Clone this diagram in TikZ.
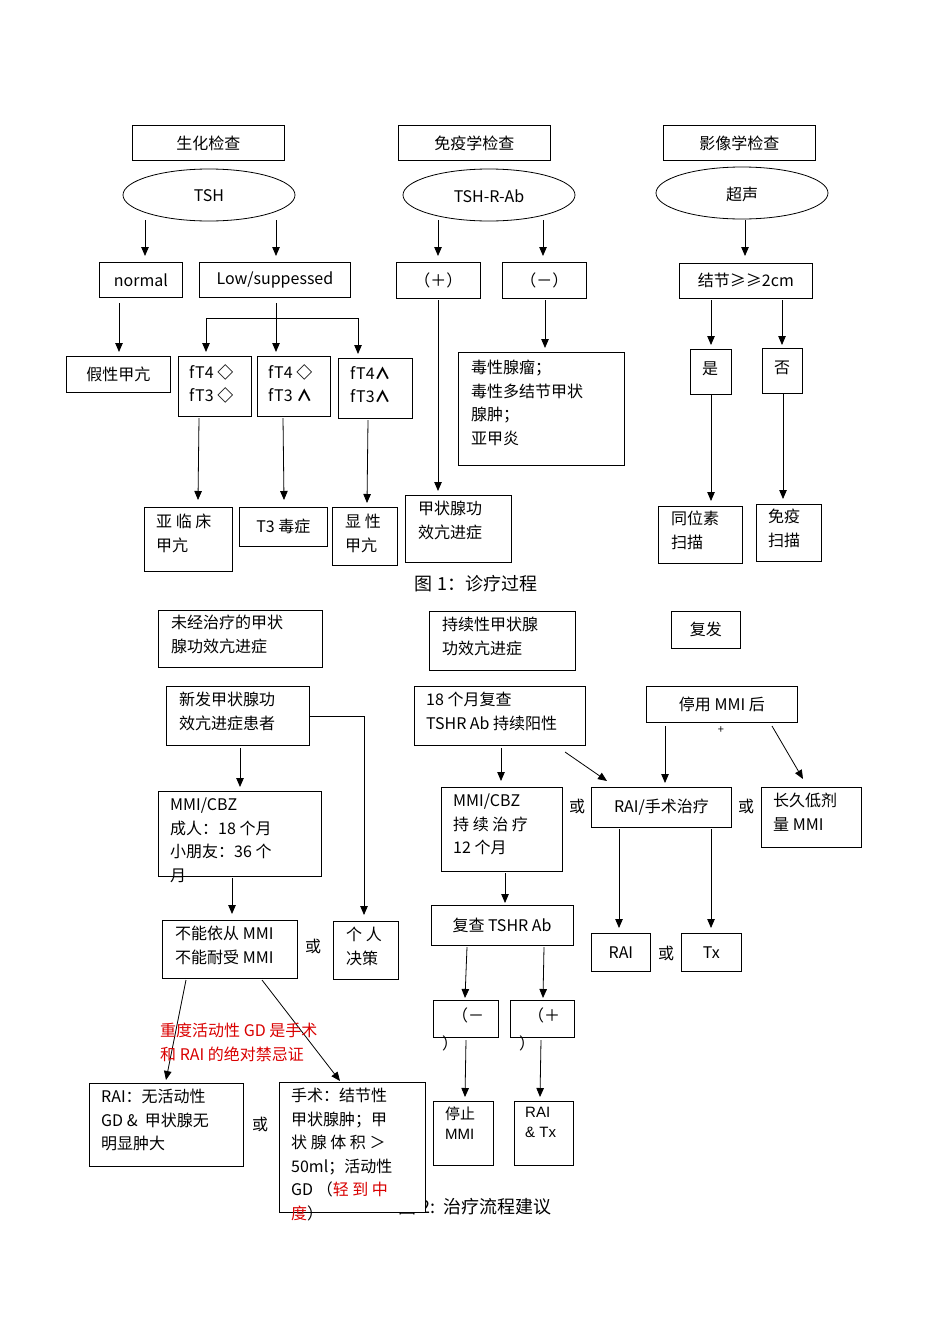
\documentclass[tikz,border=0pt]{standalone}
\usepackage{fontspec}
\setmainfont{Noto Sans CJK SC}
\newfontfamily\lat{Liberation Sans}
\usetikzlibrary{arrows.meta}
\begin{document}
\begin{tikzpicture}[x=1pt,y=-1pt,
  bx/.style={draw,thick,fill=white,inner sep=0pt},
  ar/.style={-{Triangle[length=9pt,width=7.5pt]},thick},
  tx/.style={font=\fontsize{16}{23.5}\selectfont,inner sep=0pt},
  txl/.style={tx,align=left,anchor=north west}]
\useasboundingbox (0,0) rectangle (950,1344);
\newcommand\B[5]{\node[bx,minimum width=#3-#1,minimum height=#4-#2,anchor=north west] (#5) at (#1,#2) {};}
\newcommand\dia{\textbf{◇}}
\newcommand\up{\textbf{∧}}
% top row
\B{132}{125}{284}{160}{a1}\node[tx] at (a1) {生化检查};
\B{398}{125}{550}{160}{a2}\node[tx] at (a2) {免疫学检查};
\B{663}{125}{815}{160}{a3}\node[tx] at (a3) {影像学检查};
\draw[thick] (209,195) ellipse (86 and 26); \node[tx] (e1) at (209,196) {TSH};
\draw[thick] (489,195) ellipse (86 and 26); \node[tx] (e2) at (489,196) {TSH-R-Ab};
\draw[thick] (742,193) ellipse (86 and 26); \node[tx] (e3) at (742,194) {超声};
\B{99}{262}{182}{297}{n1}\node[tx] at (n1) {normal};
\B{199}{262}{350}{297}{n2}\node[tx] at (n2) {Low/suppessed};
\B{396}{262}{480}{298}{n3}\node[tx] at (n3) {（＋）};
\B{502}{262}{586}{298}{n4}\node[tx] at (n4) {（－）};
\B{679}{263}{812}{298}{n5}\node[tx] at (n5) {结节≥≥2cm};
\draw[ar] (145,220)--(145,256); \draw[ar] (276,220)--(276,256);
\draw[ar] (438,220)--(438,256); \draw[ar] (543,220)--(543,256);
\draw[ar] (745,220)--(745,256);
\B{66}{356}{170}{392}{m1}\node[tx] at (m1) {假性甲亢};
\B{178}{356}{251}{416}{m2}\node[txl] at (189,364) {fT4 \dia\\fT3 \dia};
\B{257}{356}{330}{416}{m3}\node[txl] at (268,364) {fT4 \dia\\fT3 \up};
\B{338}{358}{412}{418}{m4}\node[txl] at (350,366) {fT4\up\\fT3\up};
\draw[ar] (119,303)--(119,352);
\draw[ar] (276,303)--(276,352);
\draw[ar] (276,318)-|(206,352); \draw[ar] (276,318)-|(358,354);
\B{144}{507}{232}{571}{p1}\node[txl] at (156,514) {亚 临 床\\甲亢};
\B{239}{507}{327}{546}{p2}\node[tx] at (p2) {T3 毒症};
\B{332}{507}{397}{565}{p3}\node[txl] at (345,514) {显 性\\甲亢};
\B{405}{495}{511}{562}{p4}\node[txl] at (418,501) {甲状腺功\\效亢进症};
\draw[ar] (199,418)--(198,500); \draw[ar] (283,418)--(284,500);
\draw[ar] (368,420)--(367,503); \draw[ar] (438,300)--(438,491);
\draw[ar] (545,300)--(545,348);
\B{458}{352}{624}{465}{q1}\node[txl] at (471,360) {毒性腺瘤；\\毒性多结节甲状\\腺肿；\\亚甲炎};
\draw[ar] (711,300)--(711,345); \draw[ar] (782,300)--(782,345);
\B{690}{349}{731}{394}{r1}\node[tx] at (710,369) {是};
\B{762}{348}{802}{393}{r2}\node[tx] at (782,368) {否};
\draw[ar] (711,394)--(711,501); \draw[ar] (783,394)--(783,499);
\B{658}{506}{742}{563}{s1}\node[txl] at (671,511) {同位素\\扫描};
\B{756}{504}{821}{561}{s2}\node[txl] at (768,509) {免疫\\扫描};
\node[tx,font=\fontsize{18}{20}\selectfont] (c1) at (476,584) {图 1：诊疗过程};
% bottom
\node[tx,font=\fontsize{18}{20}\selectfont] (c2) at (475,1207) {图 2:\ \ 治疗流程建议};
\B{158}{610}{322}{667}{t1}\node[txl] at (171,615) {未经治疗的甲状\\腺功效亢进症};
\B{429}{611}{575}{670}{t2}\node[txl] at (442,617) {持续性甲状腺\\功效亢进症};
\B{671}{611}{740}{648}{t3}\node[tx] at (t3) {复发};
\B{166}{686}{309}{745}{u1}\node[txl] at (179,692) {新发甲状腺功\\效亢进症患者};
\draw[ar] (309,716)-|(364,915);
\draw[ar] (240,748)--(240,787);
\B{158}{791}{321}{876}{u2}\node[txl] at (170,798) {MMI/CBZ\\成人：18 个月\\小朋友：36 个\\月};
\draw[ar] (232,878)--(232,914);
\B{162}{920}{297}{978}{u3}\node[txl] at (175,926) {不能依从 MMI\\不能耐受 MMI};
\node[tx] at (313,946) {或};
\B{333}{921}{398}{979}{u4}\node[txl] at (346,927) {个 人\\决策};
\draw[ar] (186,980)--(166,1080); \draw[ar] (262,980)--(340,1081);
\node[txl,text=red!85!black] at (160,1023) {重度活动性 GD 是手术\\和 RAI 的绝对禁忌证};
\B{89}{1083}{243}{1166}{v1}\node[txl] at (101,1089) {RAI：无活动性\\GD \&\ \ 甲状腺无\\明显肿大};
\node[tx] at (260,1124) {或};
\B{279}{1082}{425}{1212}{v2}\node[txl] at (291,1088) {手术：结节性\\甲状腺肿；甲\\状 腺 体 积 ＞\\50ml；活动性\\GD （\textcolor{red!85!black}{轻 到 中}\\\textcolor{red!85!black}{度}）};
\B{414}{686}{585}{745}{w1}\node[txl] at (426,692) {18 个月复查\\TSHR Ab 持续阳性};
\B{646}{686}{797}{722}{w2}\node[tx] at (w2) {停用 MMI 后};
\node[tx,font=\fontsize{11}{12}\selectfont] at (721,730) {+};
\draw[ar] (501,748)--(501,781); \draw[ar] (565,752)--(607,781);
\draw[ar] (665,726)--(665,783); \draw[ar] (772,726)--(803,779);
\B{441}{787}{562}{871}{x1}\node[txl] at (453,794) {MMI/CBZ\\持 续 治 疗\\12 个月};
\node[tx] at (577,806) {或};
\B{591}{787}{731}{827}{x2}\node[tx] at (x2) {RAI/手术治疗};
\node[tx] at (746,806) {或};
\B{761}{787}{861}{847}{x3}\node[txl] at (773,793) {长久低剂\\量 MMI};
\draw[ar] (619,829)--(619,928); \draw[ar] (711,829)--(711,928);
\B{591}{933}{650}{971}{y1}\node[tx] at (y1) {RAI};
\node[tx] at (666,953) {或};
\B{681}{933}{741}{971}{y2}\node[tx] at (y2) {Tx};
\draw[ar] (505,873)--(505,903);
\B{431}{905}{573}{945}{z1}\node[tx] at (502,925) {复查 TSHR Ab};
\draw[ar] (467,947)--(465,998); \draw[ar] (544,947)--(543,998);
\B{433}{1000}{498}{1037}{z2}\node[txl] at (452,1008) {（－};\node[tx] at (450,1043) {）};
\B{510}{1000}{574}{1037}{z3}\node[txl] at (528,1008) {（＋};\node[tx] at (527,1043) {）};
\draw[ar] (466,1040)--(465,1097); \draw[ar] (541,1040)--(540,1097);
\B{433}{1101}{493}{1165}{z4}\node[txl,font=\fontsize{15}{20}\selectfont] at (445,1107) {停止\\{\lat MMI}};
\B{514}{1101}{573}{1165}{z5}\node[txl,font=\lat\fontsize{15}{20}\selectfont] at (525,1107) {RAI\\\& Tx};
\end{tikzpicture}
\end{document}
